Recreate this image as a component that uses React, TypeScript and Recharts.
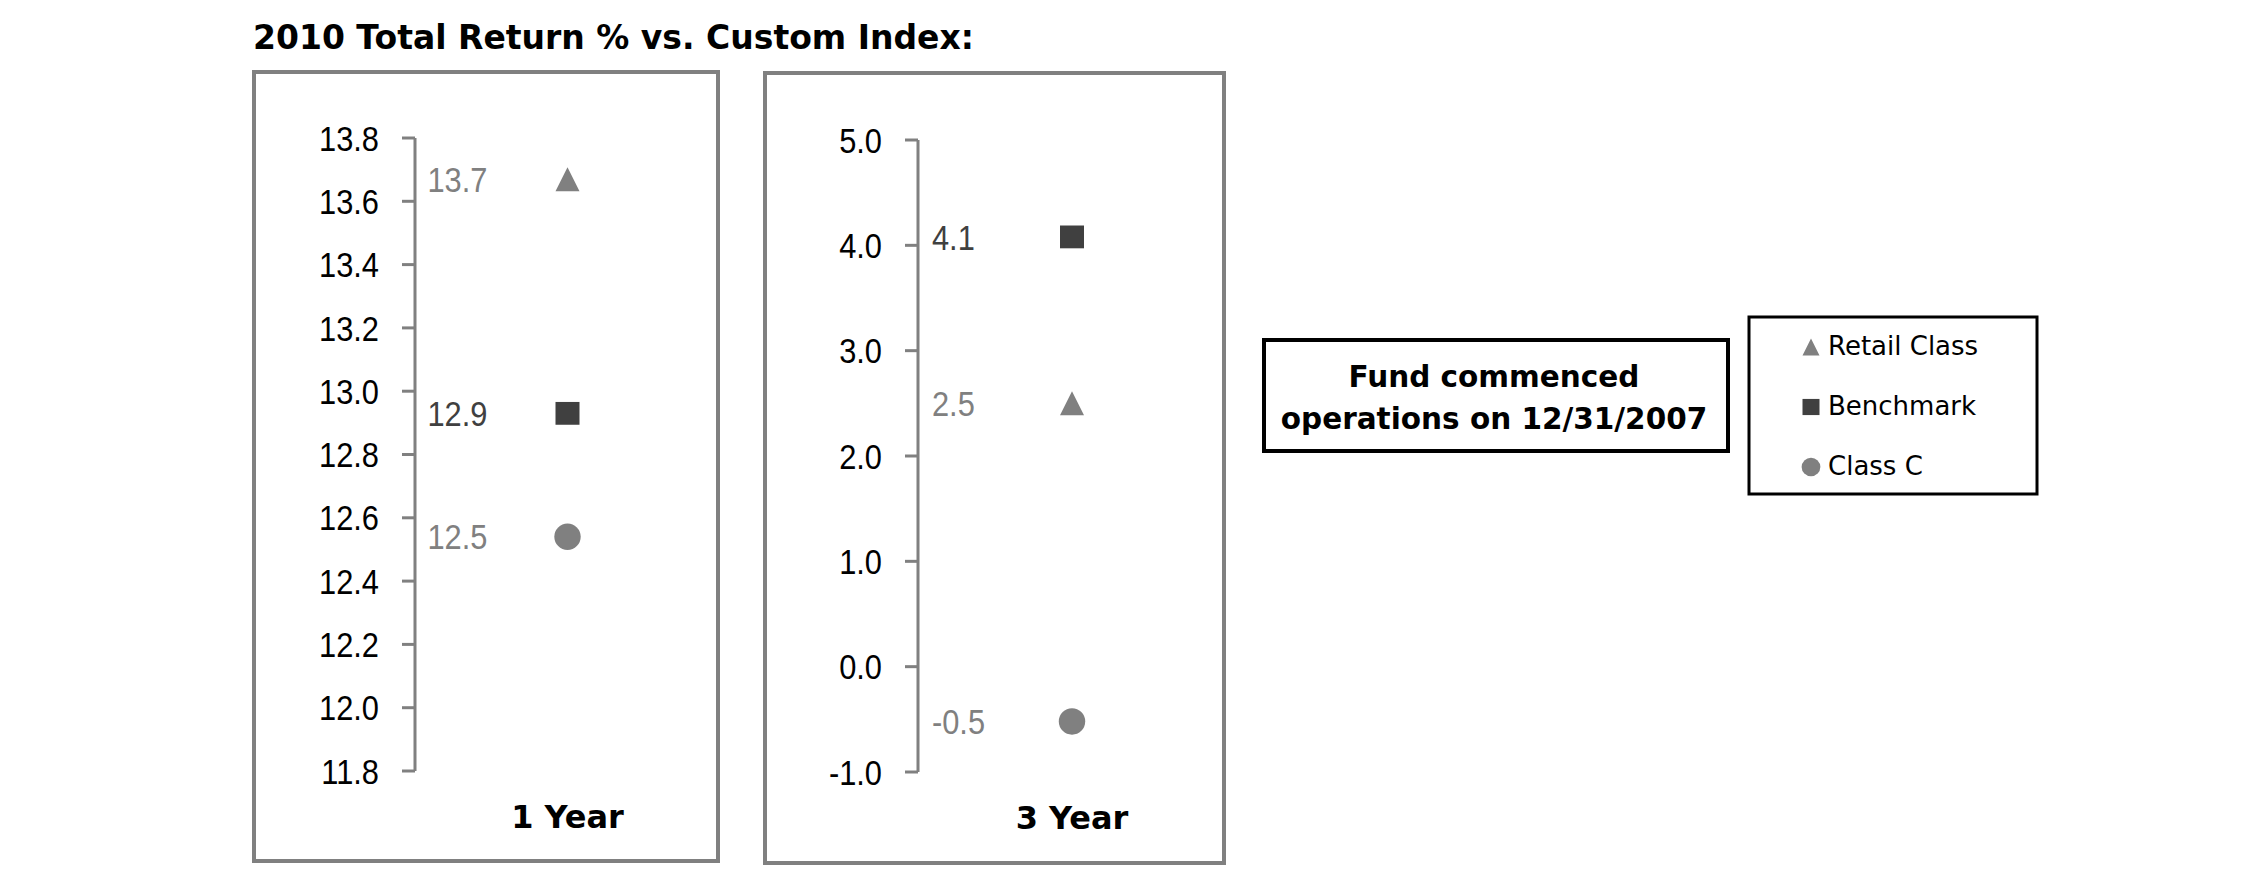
import React from 'react'
import { LineChart, Line, XAxis, YAxis, LabelList } from 'recharts'

// values
const periods = ['1 Year', '3 Year']
const seriesNames = ['Retail Class', 'Benchmark', 'Class C']
const retailClass = [13.67, 2.5]
const benchmark = [12.93, 4.08]
const classC = [12.54, -0.52]
const oneYearTicks = [11.8, 12.0, 12.2, 12.4, 12.6, 12.8, 13.0, 13.2, 13.4, 13.6, 13.8]
const threeYearTicks = [-1, 0, 1, 2, 3, 4, 5]
const chartTitle = '2010 Total Return % vs. Custom Index:'
const noteLines = ['Fund commenced', 'operations on 12/31/2007']

const GRAY = '#808080'
const DARK = '#404040'
const seriesKeys = ['retail', 'benchmark', 'classC']
const seriesColors = [GRAY, DARK, GRAY]
const seriesShapes = ['triangle', 'square', 'circle']

const NARROW = 'scale(0.88,1)'

function Marker({ cx, cy, shape, color, size }: any) {
  if (cx == null || cy == null) return null
  const h = size / 2
  if (shape === 'triangle') {
    return <polygon points={`${cx},${cy - h} ${cx + h},${cy + h} ${cx - h},${cy + h}`} fill={color} />
  }
  if (shape === 'square') {
    return <rect x={cx - h} y={cy - h * 0.95} width={size} height={size * 0.95} fill={color} />
  }
  return <circle cx={cx} cy={cy} r={h * 1.1} fill={color} />
}

const YTick = ({ x, y, payload }: any) => (
  <text
    transform={`translate(${x},${y}) ${NARROW}`}
    textAnchor="end"
    dy="0.36em"
    fontFamily="'Liberation Sans', Arial, sans-serif"
    fontSize={35}
    fill="#000"
  >
    {Number(payload.value).toFixed(1)}
  </text>
)

const XTick = ({ x, y, payload }: any) => (
  <text
    x={x}
    y={y + 57}
    textAnchor="middle"
    fontFamily="'DejaVu Sans', Verdana, sans-serif"
    fontWeight="bold"
    fontSize={32}
    fill="#000"
  >
    {payload.value}
  </text>
)

const valueLabel = (color: string) => (props: any) => {
  const x = props.x ?? props.viewBox?.x
  const y = props.y ?? props.viewBox?.y
  if (x == null || y == null) return null
  return (
    <text
      transform={`translate(${x - 140},${y}) ${NARROW}`}
      textAnchor="start"
      dy="0.36em"
      fontFamily="'Liberation Sans', Arial, sans-serif"
      fontSize={35}
      fill={color}
    >
      {Number(props.value).toFixed(1)}
    </text>
  )
}

interface PanelProps {
  idx: number
  ticks: number[]
  box: { left: number; top: number; width: number; height: number }
  yAxisWidth: number
  marginTop: number
  marginBottom: number
}

function Panel({ idx, ticks, box, yAxisWidth, marginTop, marginBottom }: PanelProps) {
  const row: any = { period: periods[idx] }
  row.retail = retailClass[idx]
  row.benchmark = benchmark[idx]
  row.classC = classC[idx]
  const data = [row]

  return (
    <>
      <div
        style={{
          position: 'absolute',
          left: box.left,
          top: box.top,
          width: box.width,
          height: box.height,
          border: `4px solid ${GRAY}`,
          boxSizing: 'border-box',
        }}
      />
      <div style={{ position: 'absolute', left: box.left, top: 70 }}>
        <LineChart
          width={box.width + 3}
          height={795}
          data={data}
          margin={{ top: marginTop, right: 3, bottom: marginBottom, left: 0 }}
        >
          <XAxis
            dataKey="period"
            axisLine={false}
            tickLine={false}
            tickSize={0}
            tickMargin={0}
            height={60}
            tick={<XTick />}
          />
          <YAxis
            width={yAxisWidth}
            domain={[ticks[0], ticks[ticks.length - 1]]}
            ticks={ticks}
            interval={0}
            axisLine={{ stroke: GRAY, strokeWidth: 3 }}
            tickLine={{ stroke: GRAY, strokeWidth: 3 }}
            tickSize={13}
            tickMargin={23}
            tick={<YTick />}
          />
          {seriesKeys.map((key, i) => (
            <Line
              key={key}
              dataKey={key}
              name={seriesNames[i]}
              stroke="none"
              isAnimationActive={false}
              activeDot={false}
              dot={(p: any) => (
                <Marker key={`${key}-dot`} cx={p.cx} cy={p.cy} shape={seriesShapes[i]} color={seriesColors[i]} size={24} />
              )}
            >
              <LabelList dataKey={key} content={valueLabel(seriesColors[i])} />
            </Line>
          ))}
        </LineChart>
      </div>
    </>
  )
}

export default function App() {
  return (
    <div style={{ position: 'absolute', left: 0, top: 0, width: 2250, height: 895, background: '#fff' }}>
      <svg width={2250} height={895} style={{ position: 'absolute', left: 0, top: 0 }}>
        <text x={253} y={49} fontFamily="'DejaVu Sans', Verdana, sans-serif" fontWeight="bold" fontSize={33} fill="#000">
          {chartTitle}
        </text>

        <rect x={1264} y={340} width={464} height={111} fill="none" stroke="#000" strokeWidth={4} />
        {noteLines.map((line, i) => (
          <text
            key={line}
            x={1494}
            y={387 + i * 42}
            textAnchor="middle"
            fontFamily="'DejaVu Sans', Verdana, sans-serif"
            fontWeight="bold"
            fontSize={29.5}
            fill="#000"
          >
            {line}
          </text>
        ))}

        <rect x={1749} y={317} width={288} height={177} fill="none" stroke="#000" strokeWidth={3} />
        {seriesNames.map((name, i) => (
          <g key={name}>
            <Marker cx={1811} cy={347 + i * 60} shape={seriesShapes[i]} color={seriesColors[i]} size={17} />
            <text
              x={1828}
              y={355 + i * 60}
              fontFamily="'DejaVu Sans', Verdana, sans-serif"
              fontSize={26}
              fill="#000"
            >
              {name}
            </text>
          </g>
        ))}
      </svg>

      <Panel
        idx={0}
        ticks={oneYearTicks}
        box={{ left: 252, top: 70, width: 468, height: 793 }}
        yAxisWidth={163}
        marginTop={68}
        marginBottom={34}
      />
      <Panel
        idx={1}
        ticks={threeYearTicks}
        box={{ left: 763, top: 71, width: 463, height: 794 }}
        yAxisWidth={155}
        marginTop={70}
        marginBottom={33}
      />
    </div>
  )
}
